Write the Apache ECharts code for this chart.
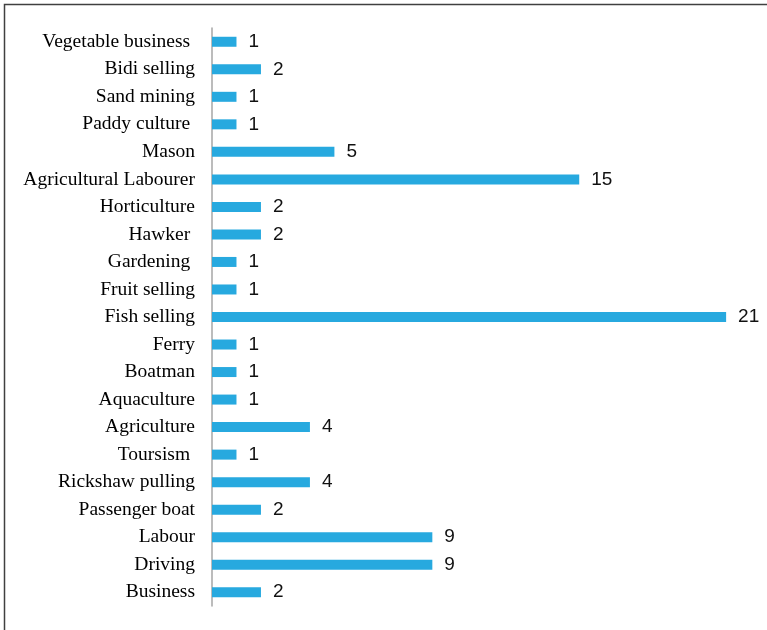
<!DOCTYPE html>
<html><head><meta charset="utf-8">
<script src="https://cdn.jsdelivr.net/npm/echarts@6/dist/echarts.min.js"></script>
<style>html,body{margin:0;padding:0;background:#fff}#c{width:767px;height:630px}</style>
</head><body><div id="c"></div>
<script>
const categories = ["Business","Driving","Labour","Passenger boat","Rickshaw pulling","Toursism ","Agriculture","Aquaculture","Boatman","Ferry","Fish selling","Fruit selling","Gardening ","Hawker ","Horticulture","Agricultural Labourer","Mason","Paddy culture ","Sand mining","Bidi selling","Vegetable business "];
const values = [2,9,9,2,4,1,4,1,1,1,21,1,1,2,2,15,5,1,1,2,1];

const chart = echarts.init(document.getElementById('c'));
chart.setOption({
  animation:false,
  graphic:[{type:'rect',shape:{x:4.5,y:4.5,width:800,height:700},style:{fill:'none',stroke:'#404040',lineWidth:1.5},silent:true}],
  grid:{left:212,top:28,width:538.6,height:578},
  xAxis:{type:'value',min:0,max:22,show:false},
  yAxis:{type:'category',data:categories,
    axisLine:{lineStyle:{color:'#a6a6a6',width:1.5}},
    axisTick:{show:false},
    axisLabel:{color:'#000',fontFamily:'Liberation Serif',fontSize:19.5,margin:17,padding:[2,0,0,0]}
  },
  series:[{type:'bar',data:values,barWidth:10,
    itemStyle:{color:'#27a9df'},
    label:{show:true,position:'right',distance:12,color:'#111',fontFamily:'Liberation Sans',fontSize:19,padding:[4,0,0,0]}
  }]
});
</script></body></html>
